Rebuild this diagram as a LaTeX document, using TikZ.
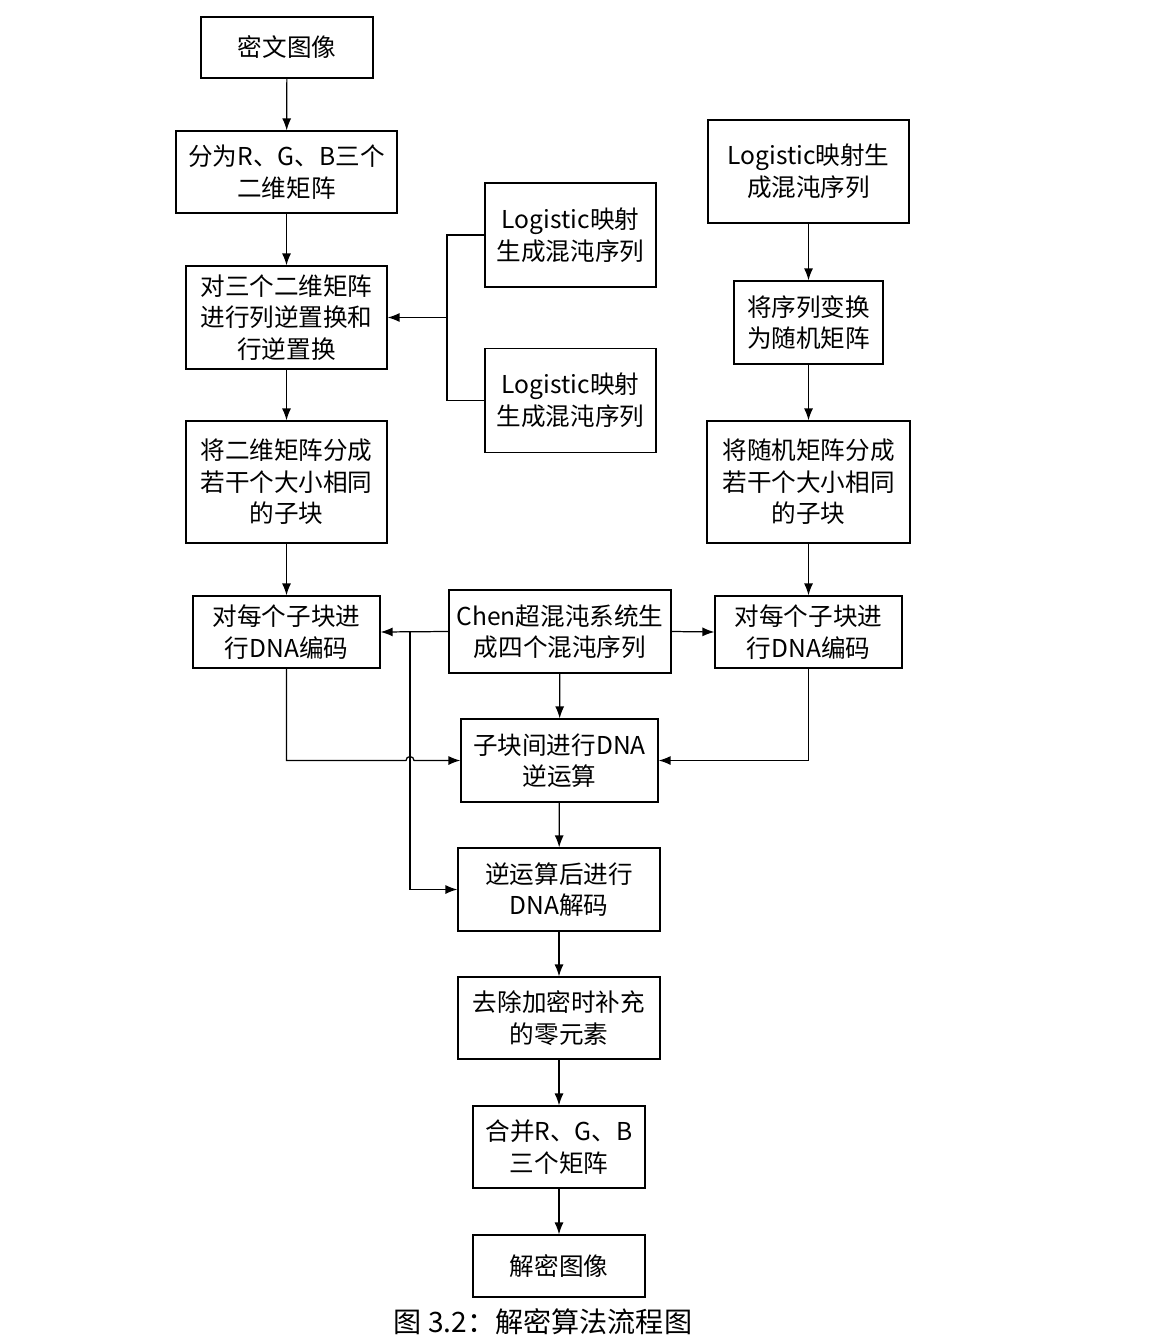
\documentclass[tikz,border=0pt]{standalone}
\usepackage{fontspec}
\setmainfont{Noto Sans CJK SC}
\usepackage{xcolor}
\usepackage{tikz}
\usetikzlibrary{positioning,arrows.meta,calc}
\definecolor{LineBlack}{HTML}{000000}

\tikzset{
  stepbox/.style={draw=LineBlack, line width=0.7pt, align=center, inner sep=2pt,
                  font=\fontsize{14}{18}\selectfont},
  flow/.style={draw=LineBlack, line width=0.7pt, -{Latex[length=2.4mm,width=1.8mm]}},
  wire/.style={draw=LineBlack, line width=0.7pt}
}

\begin{document}
\begin{tikzpicture}[x=0.02cm, y=-0.02cm]
  \useasboundingbox (0,0) rectangle (1172,1344);

  % left column
  \node[stepbox, minimum width=3.44cm, minimum height=1.22cm] (cipher) at (287,47.5) {密文图像};
  \node[stepbox, minimum width=4.42cm, minimum height=1.64cm] (split) at (286.5,172) {分为R、G、B三个\\二维矩阵};
  \node[stepbox, minimum width=4.02cm, minimum height=2.06cm] (perm) at (286.5,317.5) {对三个二维矩阵\\进行列逆置换和\\行逆置换};
  \node[stepbox, minimum width=4.02cm, minimum height=2.44cm] (blockL) at (286.5,482) {将二维矩阵分成\\若干个大小相同\\的子块};
  \node[stepbox, minimum width=3.74cm, minimum height=1.44cm] (encL) at (286.5,632) {对每个子块进\\行DNA编码};

  % middle column
  \node[stepbox, minimum width=3.42cm, minimum height=2.08cm] (logA) at (570.5,235) {Logistic映射\\生成混沌序列};
  \node[stepbox, minimum width=3.42cm, minimum height=2.08cm] (logB) at (570.5,400.5) {Logistic映射\\生成混沌序列};
  \node[stepbox, minimum width=4.44cm, minimum height=1.66cm] (chen) at (560,631.5) {Chen超混沌系统生\\成四个混沌序列};

  % right column
  \node[stepbox, minimum width=4.02cm, minimum height=2.06cm] (logC) at (808.5,171.5) {Logistic映射生\\成混沌序列};
  \node[stepbox, minimum width=2.98cm, minimum height=1.66cm] (tomat) at (808.5,322.5) {将序列变换\\为随机矩阵};
  \node[stepbox, minimum width=4.06cm, minimum height=2.44cm] (blockR) at (808.5,482) {将随机矩阵分成\\若干个大小相同\\的子块};
  \node[stepbox, minimum width=3.74cm, minimum height=1.44cm] (encR) at (808.5,632) {对每个子块进\\行DNA编码};

  % lower chain
  \node[stepbox, minimum width=3.94cm, minimum height=1.66cm] (dnaop) at (559.5,760.5) {子块间进行DNA\\逆运算};
  \node[stepbox, minimum width=4.04cm, minimum height=1.66cm] (decode) at (559,889.5) {逆运算后进行\\DNA解码};
  \node[stepbox, minimum width=4.04cm, minimum height=1.64cm] (zeros) at (559,1018) {去除加密时补充\\的零元素};
  \node[stepbox, minimum width=3.44cm, minimum height=1.64cm] (merge) at (559,1147) {合并R、G、B\\三个矩阵};
  \node[stepbox, minimum width=3.44cm, minimum height=1.24cm] (plain) at (559,1266) {解密图像};

  \node[font=\fontsize{16}{20}\selectfont] (caption) at (543,1322) {图 3.2：解密算法流程图};

  % helper points
  \coordinate (join) at (447,317.5);
  \coordinate (tap) at (410,632);

  % arrows
  \draw[flow] (cipher) -- (split);
  \draw[flow] (split) -- (perm);
  \draw[flow] (perm) -- (blockL);
  \draw[flow] (blockL) -- (encL);
  \draw[wire] (logA.west) -| (join) |- (logB.west);
  \draw[flow] (join) -- (perm.east);
  \draw[flow] (logC) -- (tomat);
  \draw[flow] (tomat) -- (blockR);
  \draw[flow] (blockR) -- (encR);
  \draw[flow] (chen.west) -- (encL.east);
  \draw[flow] (chen.east) -- (encR.west);
  \draw[flow] (chen) -- (dnaop);
  \draw[flow] (encL.south) |- ($(tap|-dnaop.west)+(-4,0)$)
    arc[start angle=180, end angle=0, radius=0.08cm] -- (dnaop.west);
  \draw[flow] (encR.south) |- (dnaop.east);
  \draw[flow] (tap) |- (decode.west);
  \draw[flow] (dnaop) -- (decode);
  \draw[flow] (decode) -- (zeros);
  \draw[flow] (zeros) -- (merge);
  \draw[flow] (merge) -- (plain);
\end{tikzpicture}
\end{document}
